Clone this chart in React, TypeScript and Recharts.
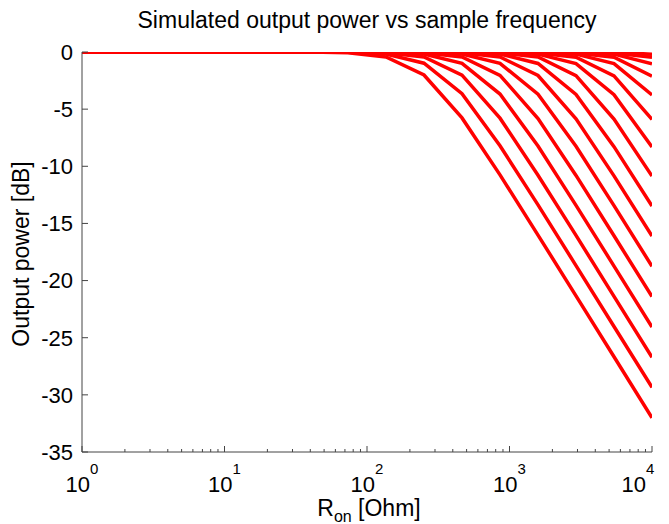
import React from "react";
import { LineChart, Line, XAxis, YAxis } from "recharts";

// R_on sample points (Ohm)
const RON = [1, 1.848, 3.415, 6.31, 11.66, 21.54, 39.81, 73.56, 135.9, 251.2, 464.2, 857.7, 1585, 2929, 5412, 10000];

// Output power curves [dB], one per sample frequency
const P0 = [0, 0, 0, 0, 0, 0, 0, -0.07, -0.43, -2.01, -5.77, -10.75, -16.02, -21.34, -26.67, -32.0];
const P1 = [0, 0, 0, 0, 0, 0, 0, -0.03, -0.18, -0.98, -3.65, -8.2, -13.38, -18.69, -24.02, -29.35];
const P2 = [0, 0, 0, 0, 0, 0, 0, 0, -0.07, -0.43, -2.03, -5.79, -10.78, -16.05, -21.38, -26.71];
const P3 = [0, 0, 0, 0, 0, 0, 0, 0, -0.03, -0.18, -0.99, -3.68, -8.23, -13.42, -18.73, -24.06];
const P4 = [0, 0, 0, 0, 0, 0, 0, 0, 0, -0.07, -0.44, -2.04, -5.82, -10.8, -16.08, -21.4];
const P5 = [0, 0, 0, 0, 0, 0, 0, 0, 0, -0.03, -0.18, -0.99, -3.69, -8.25, -13.44, -18.75];
const P6 = [0, 0, 0, 0, 0, 0, 0, 0, 0, 0, -0.07, -0.44, -2.06, -5.85, -10.84, -16.11];
const P7 = [0, 0, 0, 0, 0, 0, 0, 0, 0, 0, -0.03, -0.18, -1.0, -3.72, -8.28, -13.47];
const P8 = [0, 0, 0, 0, 0, 0, 0, 0, 0, 0, 0, -0.08, -0.44, -2.07, -5.87, -10.86];
const P9 = [0, 0, 0, 0, 0, 0, 0, 0, 0, 0, 0, -0.03, -0.19, -1.01, -3.74, -8.31];
const P10 = [0, 0, 0, 0, 0, 0, 0, 0, 0, 0, 0, 0, -0.08, -0.45, -2.09, -5.9];
const P11 = [0, 0, 0, 0, 0, 0, 0, 0, 0, 0, 0, 0, -0.03, -0.19, -1.02, -3.76];
const P12 = [0, 0, 0, 0, 0, 0, 0, 0, 0, 0, 0, 0, 0, -0.08, -0.45, -2.11];
const P13 = [0, 0, 0, 0, 0, 0, 0, 0, 0, 0, 0, 0, 0, -0.03, -0.19, -1.03];
const P14 = [0, 0, 0, 0, 0, 0, 0, 0, 0, 0, 0, 0, 0, 0, -0.08, -0.46];
const P15 = [0, 0, 0, 0, 0, 0, 0, 0, 0, 0, 0, 0, 0, 0, -0.03, -0.19];

const SERIES = [P0, P1, P2, P3, P4, P5, P6, P7, P8, P9, P10, P11, P12, P13, P14, P15];

const X_TICKS = [
  1, 2, 3, 4, 5, 6, 7, 8, 9,
  10, 20, 30, 40, 50, 60, 70, 80, 90,
  100, 200, 300, 400, 500, 600, 700, 800, 900,
  1000, 2000, 3000, 4000, 5000, 6000, 7000, 8000, 9000,
  10000,
];
const Y_TICKS = [-35, -30, -25, -20, -15, -10, -5, 0];

const TITLE = "Simulated output power vs sample frequency";
const Y_LABEL = "Output power [dB]";

const FONT = "'Liberation Sans', Arial, Helvetica, sans-serif";
const AXIS = "#444";

const data = RON.map((r, i) => {
  const row: Record<string, number> = { ron: r };
  SERIES.forEach((s, k) => {
    row[`s${k}`] = s[i];
  });
  return row;
});

const XTick = (props: any) => {
  const { x, y, payload } = props;
  const v = payload.value as number;
  const lg = Math.log10(v);
  const exp = Math.round(lg);
  const major = Math.abs(lg - exp) < 1e-6;
  const last = exp === 4 && major;
  return (
    <g>
      <line x1={x} x2={x} y1={y} y2={y - (major ? 6 : 3)} stroke={AXIS} strokeWidth={1} />
      {major && (
        <text
          x={last ? x - 14 : x}
          y={y + 40}
          textAnchor="middle"
          fontSize={22}
          fontFamily={FONT}
          fill="#000"
        >
          10
          <tspan dy={-18} fontSize={15}>
            {exp}
          </tspan>
        </text>
      )}
    </g>
  );
};

const YTick = (props: any) => {
  const { x, y, payload } = props;
  return (
    <g>
      <line x1={x} x2={x + 6} y1={y} y2={y} stroke={AXIS} strokeWidth={1} />
      <text x={x - 9} y={y} dy="0.36em" textAnchor="end" fontSize={22} fontFamily={FONT} fill="#000">
        {payload.value}
      </text>
    </g>
  );
};

export default function App() {
  return (
    <LineChart
      width={661}
      height={516}
      data={data}
      margin={{ top: 44, right: 17, bottom: 12, left: 14 }}
    >
      <text x={359} y={20} textAnchor="middle" fontSize={23} fontFamily={FONT} fill="#000">
        {TITLE}
      </text>
      <text
        x={21}
        y={246}
        textAnchor="middle"
        fontSize={23}
        fontFamily={FONT}
        fill="#000"
        transform="rotate(-90, 21, 246)"
      >
        {Y_LABEL}
      </text>
      <text x={361} y={508} textAnchor="middle" fontSize={23} fontFamily={FONT} fill="#000">
        R
        <tspan dy={6} fontSize={16}>on</tspan>
        <tspan dy={-6}> [Ohm]</tspan>
      </text>
      <XAxis
        dataKey="ron"
        type="number"
        scale="log"
        domain={[1, 10000]}
        ticks={X_TICKS}
        interval={0}
        allowDataOverflow
        height={60}
        tickSize={0}
        tickMargin={0}
        tickLine={false}
        axisLine={{ stroke: AXIS }}
        tick={<XTick />}
      />
      <YAxis
        type="number"
        domain={[-35, 0]}
        ticks={Y_TICKS}
        interval={0}
        allowDataOverflow
        width={60}
        tickSize={0}
        tickMargin={0}
        tickLine={false}
        axisLine={{ stroke: AXIS }}
        tick={<YTick />}
      />
      {SERIES.map((_, k) => (
        <Line
          key={k}
          dataKey={`s${k}`}
          type="linear"
          stroke="#ff0000"
          strokeWidth={3.5}
          dot={false}
          activeDot={false}
          isAnimationActive={false}
        />
      ))}
    </LineChart>
  );
}
